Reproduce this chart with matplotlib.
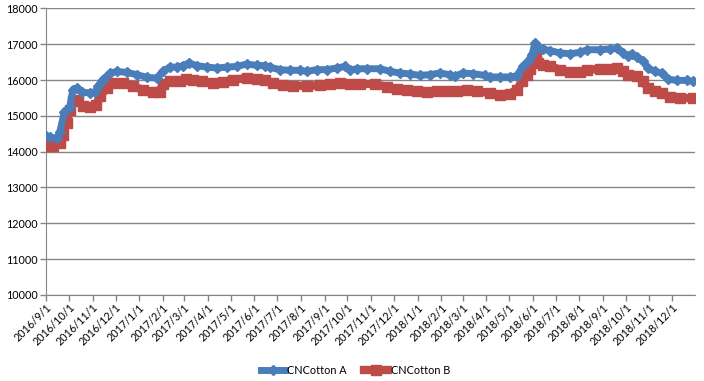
import matplotlib
matplotlib.use('Agg')
import matplotlib.pyplot as plt
import pandas as pd

# valores (dias desde 2016/9/1, preco)
start = '2016-09-01'

days_a = [0, 5, 14, 18, 24, 31, 35, 40, 47, 57, 64, 68, 74, 84, 93, 106, 119, 132,
          145, 153, 162, 171, 179, 187, 198, 211, 224, 237, 250, 263, 276, 287, 293,
          306, 320, 333, 342, 355, 368, 381, 392, 398, 407, 421, 438, 451, 464, 477,
          490, 503, 516, 529, 536, 546, 560, 575, 582, 595, 608, 617, 625, 632, 637,
          641, 645, 651, 661, 674, 687, 700, 709, 726, 739, 749, 756, 763, 768, 775,
          783, 789, 798, 807, 815, 827, 840, 848]
cotton_a = [14450, 14400, 14380, 14560, 15120, 15250, 15730, 15775, 15660, 15640,
            15660, 15820, 16010, 16195, 16240, 16210, 16150, 16075, 16055, 16240,
            16360, 16360, 16400, 16475, 16400, 16360, 16335, 16360, 16380, 16445,
            16410, 16400, 16360, 16290, 16270, 16270, 16240, 16290, 16290, 16335,
            16380, 16270, 16315, 16315, 16315, 16240, 16195, 16170, 16130, 16150,
            16195, 16150, 16100, 16195, 16175, 16130, 16085, 16085, 16085, 16120,
            16380, 16520, 16710, 17035, 16890, 16865, 16820, 16755, 16735, 16770,
            16845, 16845, 16865, 16880, 16755, 16660, 16735, 16640, 16520, 16335,
            16240, 16195, 16025, 15990, 15990, 15960]

days_b = [0, 9, 18, 22, 27, 31, 35, 42, 48, 57, 66, 70, 80, 87, 101, 114, 127, 140,
          149, 153, 162, 175, 184, 192, 205, 219, 232, 245, 263, 276, 287, 297, 310,
          324, 342, 359, 372, 385, 398, 411, 431, 447, 460, 473, 486, 499, 512, 526,
          539, 552, 565, 582, 595, 608, 617, 624, 631, 635, 638, 642, 645, 651, 661,
          674, 687, 700, 709, 726, 739, 749, 756, 763, 775, 783, 789, 798, 807, 818,
          831, 848]
cotton_b = [14150, 14150, 14240, 14470, 14800, 15170, 15400, 15450, 15280, 15245,
            15310, 15540, 15775, 15915, 15915, 15820, 15730, 15655, 15665, 15895,
            15960, 15960, 16035, 16010, 15960, 15915, 15945, 16010, 16055, 16025,
            15990, 15915, 15850, 15840, 15840, 15850, 15890, 15915, 15890, 15890,
            15890, 15805, 15750, 15730, 15680, 15665, 15700, 15700, 15700, 15730,
            15680, 15640, 15590, 15615, 15730, 15960, 16150, 16305, 16615, 16660,
            16475, 16425, 16380, 16290, 16210, 16225, 16290, 16305, 16315, 16335,
            16240, 16150, 16100, 15960, 15775, 15700, 15640, 15515, 15495, 15495]

datas_a = pd.Timestamp(start) + pd.to_timedelta(days_a, unit='D')
datas_b = pd.Timestamp(start) + pd.to_timedelta(days_b, unit='D')
meses = pd.date_range('2016-09-01', '2018-12-01', freq='MS')
rotulos = [f'{d.year}/{d.month}/1' for d in meses]

azul = '#4A7EBB'
vermelho = '#BE4B48'
cinza = '#868686'

plt.rcParams['font.family'] = ['Lato', 'DejaVu Sans']

fig = plt.figure(figsize=(7.04, 3.81), dpi=100)
ax = fig.add_axes([0.0655, 0.226, 0.922, 0.752])

ax.plot(datas_b, cotton_b, color=vermelho, lw=6, marker='s', ms=6.5,
        mec=vermelho, mfc=vermelho, label='CNCotton B', zorder=3)
ax.plot(datas_a, cotton_a, color=azul, lw=5, marker='D', ms=5.5,
        mec=azul, mfc=azul, label='CNCotton A', zorder=4)

ax.set_ylim(10000, 18000)
ax.set_yticks(range(10000, 18001, 1000))
ax.set_xlim(pd.Timestamp('2016-09-01'), pd.Timestamp('2018-12-31'))
ax.set_xticks(meses)
ax.set_xticklabels(rotulos, rotation=45, ha='right', rotation_mode='anchor')

ax.grid(axis='y', color=cinza, lw=1)
ax.set_axisbelow(True)
for s in ['top', 'right']:
    ax.spines[s].set_visible(False)
for s in ['left', 'bottom']:
    ax.spines[s].set_color(cinza)
ax.tick_params(axis='both', colors=cinza, labelcolor='black', labelsize=7.8,
               length=4, width=1)
ax.tick_params(axis='y', pad=2)
ax.tick_params(axis='x', pad=1)

h, l = ax.get_legend_handles_labels()
fig.legend(h[::-1], l[::-1], loc='center', bbox_to_anchor=(0.505, 0.028), ncol=2,
           frameon=False, fontsize=7.8, handlelength=2.2, columnspacing=1.6,
           handletextpad=0.25)

fig.savefig('out.png', dpi=100)
